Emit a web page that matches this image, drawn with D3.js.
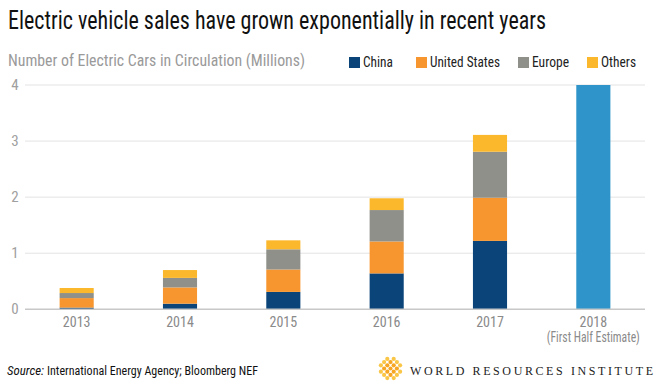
<!DOCTYPE html>
<html>
<head>
<meta charset="utf-8">
<script src="https://cdn.jsdelivr.net/npm/d3@7"></script>
<style>
  html, body { margin: 0; padding: 0; background: #fff; }
  svg { display: block; }
  .cond { font-family: "Liberation Sans Narrow", "Roboto Condensed", "DejaVu Sans Condensed", "Liberation Sans", sans-serif; }
</style>
</head>
<body>
<svg id="chart" width="667" height="388"></svg>
<script>
// ---- data ----
const years = ["2013", "2014", "2015", "2016", "2017", "2018"];
const yearSublabels = ["", "", "", "", "", "(First Half Estimate)"];
const seriesNames = ["China", "United States", "Europe", "Others"];
const china = [0.03, 0.10, 0.31, 0.64, 1.22, 0];
const unitedStates = [0.17, 0.29, 0.40, 0.57, 0.77, 0];
const europe = [0.09, 0.17, 0.36, 0.56, 0.82, 0];
const others = [0.09, 0.14, 0.16, 0.21, 0.30, 0];
const estimateTotal = [0, 0, 0, 0, 0, 4.0];
const yTicks = [0, 1, 2, 3, 4];

const colors = { "China": "#0b4479", "United States": "#f7962f", "Europe": "#8f908a", "Others": "#fcb82c" };
const estimateColor = "#2e94c9";

const svg = d3.select("#chart");

const x = d3.scaleBand().domain(years).range([25, 645]).paddingInner(0.67).paddingOuter(0.335);
const y = d3.scaleLinear().domain([0, 4]).range([309.3, 85]);

// gridlines
svg.append("g").selectAll("line").data(yTicks.filter(d => d > 0)).join("line")
  .attr("x1", 25).attr("x2", 645)
  .attr("y1", d => y(d)).attr("y2", d => y(d))
  .attr("stroke", "#e3e3e3").attr("stroke-width", 1);

// y tick labels
svg.append("g").selectAll("text").data(yTicks).join("text")
  .attr("class", "cond")
  .attr("x", 15).attr("y", d => y(d) + 5)
  .attr("text-anchor", "middle")
  .attr("font-size", 15).attr("fill", "#a0a0a0")
  .text(d => d);

// stacked bars
const rows = years.map((yr, i) => ({ year: yr, "China": china[i], "United States": unitedStates[i], "Europe": europe[i], "Others": others[i] }));
const stacked = d3.stack().keys(seriesNames)(rows);
svg.append("g").selectAll("g").data(stacked).join("g")
  .attr("fill", d => colors[d.key])
  .selectAll("rect").data(d => d.filter(p => p[1] > p[0])).join("rect")
  .attr("x", d => x(d.data.year))
  .attr("width", x.bandwidth())
  .attr("y", d => y(d[1]))
  .attr("height", d => y(d[0]) - y(d[1]));

// estimate bar
svg.append("g").selectAll("rect").data(years.map((yr, i) => ({ year: yr, v: estimateTotal[i] })).filter(d => d.v > 0)).join("rect")
  .attr("x", d => x(d.year)).attr("width", x.bandwidth())
  .attr("y", d => y(d.v)).attr("height", d => y(0) - y(d.v))
  .attr("fill", estimateColor);

// baseline
svg.append("line").attr("x1", 25).attr("x2", 645).attr("y1", y(0)).attr("y2", y(0))
  .attr("stroke", "#c8c8c8").attr("stroke-width", 1.5);

// x labels
const xl = svg.append("g");
xl.selectAll("text.yr").data(years).join("text")
  .attr("class", "cond yr")
  .attr("x", d => x(d) + x.bandwidth() / 2).attr("y", 327)
  .attr("text-anchor", "middle").attr("font-size", 14).attr("fill", "#8a8a8a")
  .text(d => d);
xl.selectAll("text.sub").data(years.map((d, i) => ({ year: d, s: yearSublabels[i] })).filter(d => d.s)).join("text")
  .attr("class", "cond sub")
  .attr("x", d => x(d.year) + x.bandwidth() / 2).attr("y", 342)
  .attr("text-anchor", "middle").attr("font-size", 14).attr("fill", "#8a8a8a")
  .attr("textLength", 93).attr("lengthAdjust", "spacingAndGlyphs")
  .text(d => d.s);

// title
svg.append("text").attr("class", "cond")
  .attr("x", 8).attr("y", 29).attr("font-size", 25).attr("fill", "#111")
  .attr("textLength", 538).attr("lengthAdjust", "spacingAndGlyphs")
  .text("Electric vehicle sales have grown exponentially in recent years");

// subtitle
svg.append("text").attr("class", "cond")
  .attr("x", 8).attr("y", 66).attr("font-size", 17).attr("fill", "#9a9a9a")
  .attr("textLength", 297).attr("lengthAdjust", "spacingAndGlyphs")
  .text("Number of Electric Cars in Circulation (Millions)");

// legend
const legendX = [349, 416, 518, 587];
const legendW = [30, 70, 37, 35];
const lg = svg.append("g").selectAll("g").data(seriesNames).join("g")
  .attr("transform", (d, i) => `translate(${legendX[i]},57)`);
lg.append("rect").attr("width", 11).attr("height", 11).attr("fill", d => colors[d]);
lg.append("text").attr("class", "cond")
  .attr("x", 14).attr("y", 10).attr("font-size", 15).attr("fill", "#222")
  .attr("textLength", (d, i) => legendW[i]).attr("lengthAdjust", "spacingAndGlyphs")
  .text(d => d);

// source
svg.append("text").attr("class", "cond")
  .attr("x", 7).attr("y", 375).attr("font-size", 13.5).attr("fill", "#111")
  .attr("font-style", "italic")
  .attr("textLength", 37).attr("lengthAdjust", "spacingAndGlyphs")
  .text("Source:");
svg.append("text").attr("class", "cond")
  .attr("x", 47).attr("y", 375).attr("font-size", 13.5).attr("fill", "#111")
  .attr("textLength", 211).attr("lengthAdjust", "spacingAndGlyphs")
  .text("International Energy Agency; Bloomberg NEF");

// logo emblem (lattice of dots in a diamond)
const emb = svg.append("g").attr("transform", "translate(390.5,368.5)");
const dots = [];
for (let r = -3; r <= 3; r++) {
  for (let c = -3; c <= 3; c++) {
    if (Math.abs(r) + Math.abs(c) <= 4 && (r + c) % 2 === 0) dots.push({ r, c });
  }
}
emb.selectAll("circle").data(dots).join("circle")
  .attr("cx", d => d.c * 3.2).attr("cy", d => d.r * 3.2)
  .attr("r", 2.1)
  .attr("fill", d => (Math.abs(d.r) + Math.abs(d.c) <= 2 ? "#f6a623" : "#f9c648"));
svg.append("text")
  .attr("x", 410).attr("y", 374.5)
  .attr("font-family", "'Liberation Serif', 'DejaVu Serif', serif")
  .attr("font-size", 12).attr("fill", "#222")
  .attr("textLength", 243).attr("lengthAdjust", "spacing")
  .text("WORLD RESOURCES INSTITUTE");
</script>
</body>
</html>
